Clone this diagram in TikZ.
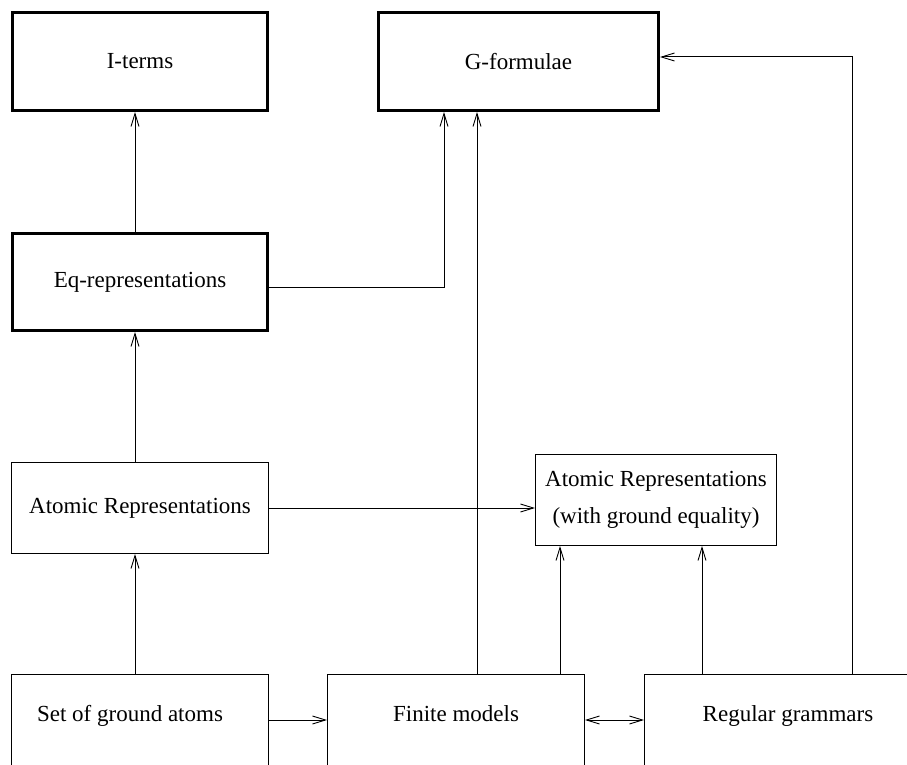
\documentclass[tikz,border=0pt]{standalone}
\usepackage{fontspec}
\setmainfont{Liberation Serif}
\usetikzlibrary{arrows.meta}
\begin{document}
\begin{tikzpicture}[x=1pt,y=-1pt,
  every node/.style={font=\fontsize{23pt}{37pt}\selectfont, inner sep=0pt},
  thickbox/.style={draw, line width=3pt, rectangle},
  thinbox/.style={draw, line width=1pt, rectangle},
  label text/.style={anchor=base},
  conn/.style={line width=1pt},
  arr/.style={conn, -{Straight Barb[length=13pt,width=8pt,line width=0.9pt]}},
  dbl/.style={conn, {Straight Barb[length=13pt,width=8pt,line width=0.9pt]}-{Straight Barb[length=13pt,width=8pt,line width=0.9pt]}}]
\clip (0,0) rectangle (907,765);
\fill[white] (0,0) rectangle (907,765);
% boxes
\node[thickbox, minimum width=255pt, minimum height=98pt] (iterms) at (140,61.5) {I-terms};
\node[thickbox, minimum width=280pt, minimum height=98pt] (gform) at (518.5,61.5) {G-formulae};
\node[thickbox, minimum width=255pt, minimum height=97pt] (eq) at (140,282) {Eq-representations};
\node[thinbox, minimum width=257pt, minimum height=91pt] (areps) at (140,508) {Atomic Representations};
\node[thinbox, minimum width=241pt, minimum height=91pt, align=center] (areq) at (656,500) {Atomic Representations\\(with ground equality)};
\node[thinbox, minimum width=257pt, minimum height=126pt] (set) at (140,737) {};
\node[thinbox, minimum width=257pt, minimum height=126pt] (finite) at (456,737) {};
\node[thinbox, minimum width=315pt, minimum height=126pt] (reg) at (802,737) {};
\node[label text] (settext) at (130,721) {Set of ground atoms};
\node[label text] (finitetext) at (456,721) {Finite models};
\node[label text] (regtext) at (788,721) {Regular grammars};
% coordinates
\coordinate (xa) at (135,0);
\coordinate (xg) at (444,0);
\coordinate (xf1) at (477,0);
\coordinate (xf2) at (560,0);
\coordinate (xr1) at (702,0);
\coordinate (xr2) at (852,0);
\coordinate (yb) at (0,720);
\coordinate (ye) at (0,287);
\coordinate (yg) at (0,57);
% connectors
\draw[arr] (set.north -| xa) -- (areps.south -| xa);
\draw[arr] (areps.north -| xa) -- (eq.south -| xa);
\draw[arr] (eq.north -| xa) -- (iterms.south -| xa);
\draw[arr] (eq.east |- ye) -| (gform.south -| xg);
\draw[arr] (areps.east) -- (areps.east -| areq.west);
\draw[arr] (set.east |- yb) -- (finite.west |- yb);
\draw[dbl] (finite.east |- yb) -- (reg.west |- yb);
\draw[arr] (finite.north -| xf1) -- (gform.south -| xf1);
\draw[arr] (finite.north -| xf2) -- (areq.south -| xf2);
\draw[arr] (reg.north -| xr1) -- (areq.south -| xr1);
\draw[arr] (reg.north -| xr2) |- (gform.east |- yg);
\end{tikzpicture}
\end{document}
